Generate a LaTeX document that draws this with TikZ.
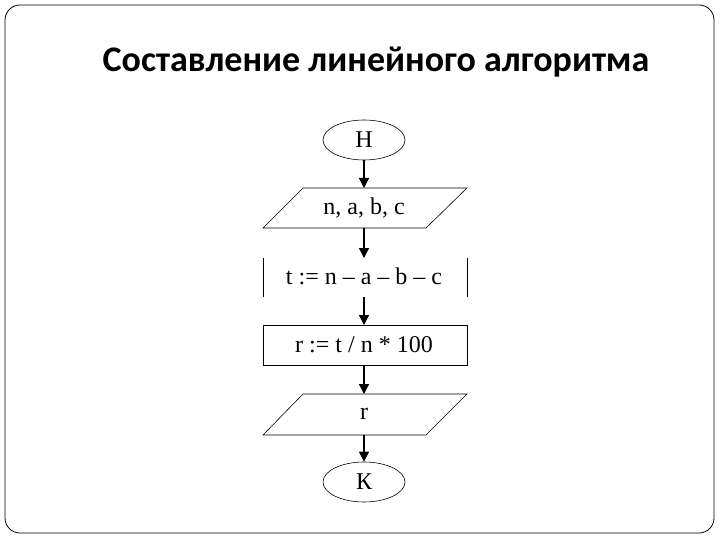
\documentclass[tikz,border=0pt]{standalone}
\usepackage{fontspec}
\setmainfont{Liberation Serif}
\newfontfamily\titlefont{Carlito}
\usetikzlibrary{shapes.geometric,arrows.meta}
\begin{document}
\begin{tikzpicture}[x=1pt,y=-1pt,
  lbl/.style={font=\fontsize{24}{26}\selectfont},
  arr/.style={line width=1.2pt,-{Triangle[length=10pt,width=10pt]}},
  shp/.style={draw,line width=0.6pt}]
\useasboundingbox (0,0) rectangle (720,540);
\draw[line width=0.8pt,rounded corners=15pt] (5,5) rectangle (714,533);
\node[font=\titlefont\bfseries\fontsize{36}{40}\selectfont] (title) at (376,62) {Составление линейного алгоритма};
\node[shp,ellipse,minimum width=82pt,minimum height=40pt,inner sep=0pt,lbl] (h) at (364,140) {Н};
\draw[shp] (303,188) -- (467,188) -- (426,228) -- (263,228) -- cycle;
\node[lbl] (in) at (364,208) {n, a, b, c};
\coordinate (int) at (364,188); \coordinate (inb) at (364,228);
\draw[shp] (263,258) -- (263,297) (467,258) -- (467,297);
\node[lbl] (t) at (364,276) {t := n -- a -- b -- c};
\coordinate (tt) at (364,258); \coordinate (tb) at (364,297);
\draw[shp] (263,325) rectangle (467,365);
\node[lbl] (r) at (364,345) {r := t / n * 100};
\coordinate (rt) at (364,325); \coordinate (rb) at (364,365);
\draw[shp] (303,394) -- (467,394) -- (426,435) -- (263,435) -- cycle;
\node[lbl] (out) at (364,414) {r};
\coordinate (ot) at (364,394); \coordinate (ob) at (364,435);
\node[shp,ellipse,minimum width=82pt,minimum height=40pt,inner sep=0pt,lbl] (k) at (364,482) {К};
\draw[arr] (h) -- (int);
\draw[arr] (inb) -- (tt);
\draw[arr] (tb) -- (rt);
\draw[arr] (rb) -- (ot);
\draw[arr] (ob) -- (k);
\end{tikzpicture}
\end{document}
